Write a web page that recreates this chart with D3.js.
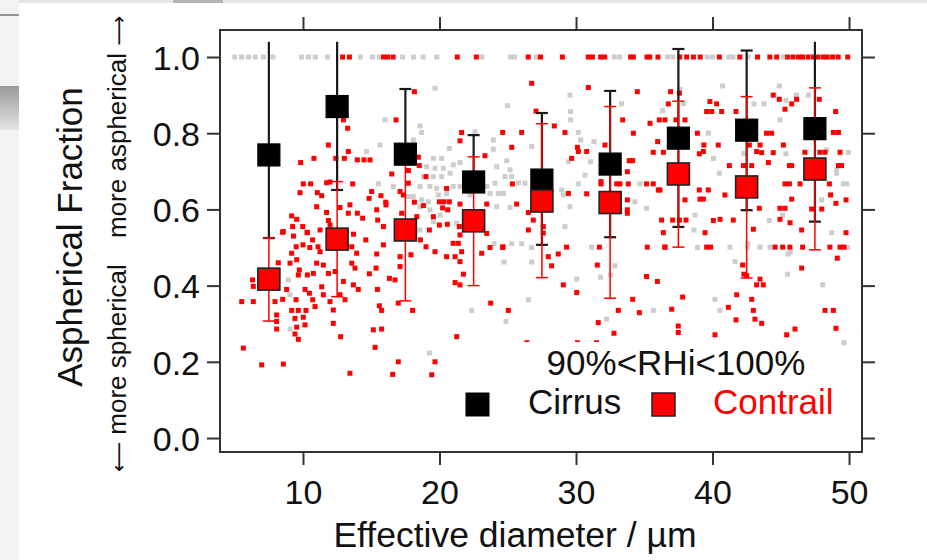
<!DOCTYPE html>
<html>
<head>
<meta charset="utf-8">
<script src="https://cdn.jsdelivr.net/npm/d3@7"></script>
<style>
	body { margin: 0; background: #fff; }
	svg { display: block; font-family: "Liberation Sans", Arial, sans-serif; }
</style>
</head>
<body>
<div id="chart"></div>
<script>
// bin centres (effective diameter, µm)
const binCenters = [7.5, 12.5, 17.5, 22.5, 27.5, 32.5, 37.5, 42.5, 47.5];

// binned cirrus / contrail statistics
const cirrusMean = [0.743, 0.870, 0.745, 0.672, 0.677, 0.719, 0.787, 0.808, 0.812];
const cirrusHi = [1.04, 1.04, 0.916, 0.795, 0.853, 0.911, 1.021, 1.017, 1.04];
const cirrusLo = [0.525, 0.651, 0.72, 0.65, 0.507, 0.527, 0.554, 0.598, 0.568];
const contrailMean = [0.417, 0.522, 0.546, 0.570, 0.622, 0.618, 0.693, 0.659, 0.706];
const contrailHi = [0.525, 0.673, 0.735, 0.738, 0.825, 0.870, 0.884, 0.896, 0.919];
const contrailLo = [0.307, 0.371, 0.360, 0.400, 0.421, 0.367, 0.501, 0.420, 0.494];

// individual points sitting at fraction = 1.0
const cirrusTopX = [5.0, 5.5, 6.0, 6.5, 7.1, 7.8, 9.9, 10.4, 10.9, 11.8, 14.2, 15.1, 15.6, 17.3, 18.1,
	18.8, 19.8, 23.1, 25.2, 25.5, 27.1, 32.8, 33.2, 36.7, 37.1, 39.6, 40.0, 41.2, 41.5, 42.6, 45.2];
const contrailTopX = [12.9, 13.4, 15.9, 16.2, 16.6, 21.3, 22.7, 26.5, 27.4, 29.0, 30.9, 31.2, 31.8, 32.1,
	34.0, 34.2, 35.2, 35.4, 36.0, 37.6, 38.1, 38.6, 39.1, 40.5, 42.0, 43.3, 44.2, 44.7, 45.5, 45.9, 46.3,
	46.6, 47.0, 47.4, 47.7, 48.1, 48.4, 48.8, 49.2, 49.9];

// individual cirrus points [diameter, fraction]
const cirrusPts = [
	[19.67,0.918],[24.97,0.872],[16.01,0.835],[18.57,0.819],[18.69,0.802],[15.64,0.769],[14.66,0.752],
	[20.72,0.76],[22.6,0.804],[23.94,0.782],[23.94,0.758],[26.75,0.765],[24.92,0.728],[25.17,0.704],
	[24.8,0.686],[18.08,0.782],[17.96,0.756],[19.55,0.734],[20.16,0.734],[19.06,0.712],[19.67,0.708],
	[20.28,0.708],[21.01,0.717],[21.5,0.723],[18.82,0.686],[19.55,0.686],[20.16,0.686],[20.77,0.695],
	[18.57,0.66],[19.3,0.66],[19.79,0.655],[21.01,0.66],[21.5,0.66],[18.08,0.634],[18.69,0.625],
	[19.18,0.62],[19.92,0.638],[20.52,0.641],[22.24,0.638],[23.46,0.66],[24.07,0.669],[23.7,0.642],
	[24.31,0.642],[24.68,0.642],[24.19,0.712],[25.29,0.686],[25.78,0.669],[26.26,0.669],[26.99,0.673],
	[15.52,0.667],[16.62,0.66],[17.72,0.634],[18.57,0.607],[19.3,0.599],[20.04,0.585],[19.55,0.568],
	[22.11,0.594],[24.19,0.607],[25.17,0.605],[21.26,0.564],[18.57,0.546],
	[8.93,0.415],[9.05,0.376],[9.05,0.286],[22.36,0.335],[24.87,0.306],[19.26,0.223],[26.51,0.363],
	[24.73,0.462],[26.75,0.462],[25.29,0.51],[26.02,0.51],[26.75,0.5],[24.0,0.51],
	[29.56,0.9],[29.6,0.857],[29.6,0.835],[30.17,0.802],[30.34,0.782],[31.32,0.778],[29.44,0.725],
	[31.07,0.725],[30.66,0.69],[30.17,0.667],[28.95,0.651],[29.07,0.638],[29.56,0.607],[29.19,0.555],
	[33.34,0.877],[34.69,0.667],[34.32,0.62],[35.17,0.603],[37.62,0.915],[36.35,0.859],[37.86,0.878],
	[39.69,0.8],[40.06,0.734],[40.5,0.695],[40.74,0.924],[43.04,0.877],[43.77,0.877],[44.94,0.835],
	[44.89,0.924],[46.16,0.9],[47.02,0.9],[45.38,0.886],[42.3,0.747],[45.38,0.746],[48.36,0.756],
	[49.95,0.75],[49.09,0.704],[49.09,0.695],[49.58,0.667],[49.83,0.667],[47.99,0.625],[44.16,0.571],
	[45.14,0.585],[38.72,0.585],[38.64,0.546],[48.73,0.539],
	[31.14,0.501],[32.85,0.452],[31.8,0.422],[32.54,0.428],[30.05,0.417],[32.24,0.312],[35.66,0.335],
	[40.18,0.364],[40.55,0.335],[41.65,0.463],[41.28,0.501],[42.55,0.501],[43.48,0.501],[44.21,0.501],
	[45.55,0.483],[45.48,0.43],[48.07,0.402],[49.63,0.25],[38.9,0.5],[49.9,0.5],[42.6,0.51],[45.7,0.488]
];

// individual contrail points [diameter, fraction]
const contrailPts = [
	[26.75,0.931],[27.07,0.858],[18.16,0.909],[16.81,0.835],[12.96,0.835],[13.27,0.813],[11.86,0.769],
	[13.32,0.752],[12.4,0.734],[13.03,0.734],[13.98,0.73],[14.47,0.73],[14.91,0.73],[10.8,0.734],
	[9.83,0.723],[10.02,0.667],[10.56,0.667],[11.73,0.67],[11.98,0.672],[13.64,0.667],[9.78,0.644],
	[11.05,0.644],[11.37,0.636],[15.03,0.647],[14.84,0.629],[15.71,0.636],[16.5,0.693],[17.11,0.647],
	[17.35,0.638],[18.45,0.737],[18.52,0.715],[17.72,0.702],[17.72,0.669],[19.01,0.686],[16.06,0.619],
	[18.16,0.619],[18.82,0.61],[20.52,0.655],[19.99,0.62],[20.33,0.62],[20.72,0.62],[20.23,0.604],
	[20.6,0.599],[21.62,0.802],[21.5,0.78],[23.33,0.741],[24.63,0.802],[26.02,0.802],[25.29,0.763],
	[25.34,0.667],[25.65,0.614],[21.5,0.614],[23.46,0.614],[9.17,0.583],[9.54,0.574],[8.56,0.542],
	[9.24,0.555],[9.98,0.555],[10.32,0.539],[11.0,0.607],[11.73,0.592],[12.71,0.605],[13.44,0.612],
	[13.32,0.59],[13.98,0.59],[14.37,0.577],[11.86,0.571],[11.98,0.559],[11.25,0.546],[15.4,0.599],
	[15.47,0.572],[15.89,0.555],[16.08,0.612],[17.23,0.59],[18.33,0.581],[19.55,0.581],[19.99,0.559],
	[20.57,0.561],[19.26,0.546],[21.45,0.555],[21.5,0.533],[23.46,0.537],[26.51,0.592],[26.51,0.546],
	[26.87,0.572],[8.5,0.54],[9.3,0.53],[10.3,0.54],[10.7,0.52],[13.7,0.535],[14.6,0.52],[18.6,0.52],
	[8.19,0.46],[9.17,0.485],[9.5,0.502],[10.0,0.507],[10.5,0.5],[11.1,0.502],[9.05,0.459],[9.54,0.468],
	[9.73,0.441],[9.66,0.428],[10.32,0.428],[10.76,0.432],[11.0,0.459],[11.49,0.454],[11.86,0.432],
	[11.25,0.489],[11.98,0.502],[6.36,0.398],[6.31,0.415],[5.51,0.358],[6.36,0.358],[7.95,0.358],
	[8.51,0.364],[8.8,0.39],[9.49,0.363],[10.15,0.39],[10.47,0.38],[10.71,0.363],[10.88,0.345],
	[11.37,0.397],[11.49,0.376],[11.98,0.358],[9.17,0.335],[9.66,0.335],[10.22,0.335],[9.41,0.314],
	[10.02,0.317],[8.07,0.323],[8.07,0.306],[8.07,0.286],[9.54,0.291],[10.15,0.297],[9.41,0.273],
	[9.66,0.259],[12.22,0.336],[12.22,0.301],[12.76,0.266],[5.63,0.236],[6.97,0.192],[8.56,0.194],
	[13.44,0.17],[12.35,0.437],[12.96,0.411],[12.71,0.376],[13.08,0.363],[13.57,0.459],[13.81,0.446],
	[13.69,0.402],[14.05,0.39],[13.93,0.485],[13.57,0.502],[14.86,0.431],[15.35,0.446],[15.45,0.39],
	[15.4,0.483],[15.89,0.507],[15.59,0.347],[15.76,0.335],[16.33,0.419],[16.74,0.415],[17.11,0.476],
	[17.11,0.45],[16.98,0.354],[18.03,0.335],[17.91,0.481],[15.15,0.284],[15.76,0.286],[15.28,0.238],
	[16.98,0.2],[16.57,0.167],[19.67,0.2],[19.43,0.166],[19.01,0.502],[19.67,0.489],[20.52,0.476],
	[21.14,0.476],[21.5,0.463],[21.75,0.43],[21.14,0.408],[21.5,0.402],[21.0,0.511],[21.38,0.511],
	[21.62,0.489],[23.09,0.485],[23.75,0.354],[25.04,0.335],[21.26,0.266],[23.7,0.5],[24.63,0.5],
	[30.9,0.92],[34.49,0.909],[36.93,0.909],[37.57,0.905],[36.76,0.877],[39.81,0.883],[40.3,0.877],
	[39.57,0.857],[39.94,0.857],[40.67,0.857],[41.72,0.857],[44.45,0.9],[44.89,0.889],[45.31,0.863],
	[45.8,0.877],[46.16,0.889],[47.82,0.889],[49.02,0.857],[33.42,0.835],[36.1,0.835],[36.52,0.835],
	[37.32,0.835],[37.98,0.835],[35.42,0.826],[34.2,0.8],[29.19,0.802],[28.41,0.819],[35.98,0.778],
	[35.66,0.75],[36.4,0.75],[38.89,0.8],[39.37,0.769],[40.42,0.769],[39.03,0.746],[39.33,0.752],
	[43.96,0.8],[44.33,0.8],[45.19,0.769],[43.48,0.769],[43.6,0.749],[44.45,0.749],[42.7,0.769],
	[46.77,0.75],[47.87,0.75],[48.24,0.75],[49.34,0.75],[48.85,0.802],[49.22,0.802],[29.68,0.734],
	[30.1,0.763],[30.17,0.752],[30.78,0.752],[29.44,0.642],[30.78,0.641],[31.83,0.673],[31.83,0.667],
	[32.12,0.769],[33.76,0.699],[33.9,0.728],[34.15,0.728],[33.83,0.667],[33.22,0.667],[33.76,0.599],
	[35.17,0.667],[35.66,0.667],[36.15,0.651],[41.23,0.715],[42.26,0.715],[42.87,0.715],[44.09,0.723],
	[45.63,0.715],[45.8,0.715],[49.22,0.715],[49.46,0.715],[40.91,0.638],[39.08,0.627],[39.33,0.627],
	[39.03,0.651],[39.69,0.651],[40.06,0.571],[40.55,0.574],[41.52,0.572],[44.94,0.603],[45.31,0.603],
	[45.31,0.667],[45.63,0.667],[46.41,0.667],[48.56,0.667],[48.65,0.638],[49.04,0.616],[49.78,0.625],
	[49.78,0.539],[47.26,0.601],[48.0,0.601],[45.8,0.627],[45.68,0.565],[46.53,0.546],[43.43,0.603],
	[42.99,0.548],[44.94,0.574],[37.98,0.625],[37.57,0.572],[37.08,0.572],[38.06,0.572],[36.27,0.572],
	[36.4,0.539],[39.45,0.539],[36.03,0.651],[32.98,0.667],[33.76,0.625],[33.76,0.59],[27.6,0.555],
	[27.6,0.538],[43.23,0.752],
	[27.97,0.476],[28.21,0.452],[28.7,0.483],[29.31,0.501],[29.07,0.402],[30.05,0.382],[31.71,0.501],
	[31.56,0.454],[35.22,0.501],[36.52,0.501],[35.17,0.424],[35.96,0.411],[39.57,0.501],[39.86,0.501],
	[42.21,0.454],[42.3,0.43],[42.5,0.426],[43.48,0.417],[43.23,0.402],[43.72,0.402],[44.58,0.501],
	[45.14,0.501],[45.67,0.501],[46.6,0.501],[48.6,0.501],[49.34,0.501],[49.63,0.501],[49.14,0.472],
	[46.53,0.446],[34.15,0.364],[34.64,0.329],[33.1,0.335],[31.63,0.303],[32.78,0.275],[37.01,0.338],
	[37.81,0.37],[37.49,0.294],[37.49,0.277],[40.18,0.271],[41.16,0.343],[41.77,0.376],[41.72,0.31],
	[42.87,0.364],[42.99,0.335],[43.11,0.312],[43.6,0.301],[45.43,0.271],[46.04,0.286],[48.24,0.335],
	[48.85,0.335],[49.04,0.288],[26.4,0.25],[30.1,0.25],[31.5,0.25],[24.65,0.502],[36.5,0.501]
];

const yTicks = [0, 0.2, 0.4, 0.6, 0.8, 1.0];
const xTicks = [10, 20, 30, 40, 50];

const width = 927;
const height = 560;
const plot = { left: 220, right: 862, top: 30, bottom: 452 };

const svg = d3.select('#chart').append('svg')
	.attr('width', width)
	.attr('height', height);

/* --------- screenshot frame bits --------- */
svg.append('rect').attr('x', 0).attr('y', 0).attr('width', width).attr('height', 3).attr('fill', '#e6e6e6');
svg.append('rect').attr('x', 173).attr('y', 0).attr('width', 50).attr('height', 3).attr('fill', '#b5b5b5');
svg.append('rect').attr('x', 0).attr('y', 0).attr('width', 19).attr('height', height).attr('fill', '#f3f3f3');
svg.append('line').attr('x1', 0).attr('x2', 19).attr('y1', 15).attr('y2', 15)
	.attr('stroke', '#555').attr('stroke-width', 1.2);
const grad = svg.append('defs').append('linearGradient')
	.attr('id', 'sideGrad').attr('x1', 0).attr('x2', 0).attr('y1', 0).attr('y2', 1);
grad.append('stop').attr('offset', '0%').attr('stop-color', '#9a9a9a');
grad.append('stop').attr('offset', '100%').attr('stop-color', '#e4e4e4');
svg.append('rect').attr('x', 0).attr('y', 86).attr('width', 19).attr('height', 44).attr('fill', 'url(#sideGrad)');

// scales
const x = d3.scaleLinear()
	.domain([3.92, 50.95])
	.range([plot.left, plot.right]);
const y = d3.scaleLinear()
	.domain([-0.0367, 1.0709])
	.range([plot.bottom, plot.top]);

const chart = svg.append('g');

/* --------- scatter --------- */
const dot = 5;
const cirrusAll = cirrusPts.concat(cirrusTopX.map(v => [v, 1.0]));
const contrailAll = contrailPts.concat(contrailTopX.map(v => [v, 1.0]));

chart.append('g').selectAll('rect')
	.data(cirrusAll)
	.enter().append('rect')
		.attr('x', d => x(d[0]) - dot / 2)
		.attr('y', d => y(d[1]) - dot / 2)
		.attr('width', dot)
		.attr('height', dot)
		.style('fill', '#cdcdcd');

chart.append('g').selectAll('rect')
	.data(contrailAll)
	.enter().append('rect')
		.attr('x', d => x(d[0]) - dot / 2)
		.attr('y', d => y(d[1]) - dot / 2)
		.attr('width', dot)
		.attr('height', dot)
		.style('fill', '#ff0000');

// legend background hides the points behind it
chart.append('rect')
	.attr('x', 462).attr('y', 342)
	.attr('width', 378).attr('height', 90)
	.style('fill', '#fff');

/* --------- binned means with error bars --------- */
const stats = binCenters.map((c, i) => ({
	x: c,
	cm: cirrusMean[i], chi: cirrusHi[i], clo: cirrusLo[i],
	tm: contrailMean[i], thi: contrailHi[i], tlo: contrailLo[i],
}));
const capW = 6;

const drawBars = (key, lo, hi, color, lw) => {
	const g = chart.append('g').attr('class', key);
	g.selectAll('.stem')
		.data(stats)
		.enter().append('line')
			.attr('x1', d => x(d.x)).attr('x2', d => x(d.x))
			.attr('y1', d => y(d[lo])).attr('y2', d => y(d[hi]))
			.style('stroke', color).style('stroke-width', lw);
	g.selectAll('.capLo')
		.data(stats)
		.enter().append('line')
			.attr('x1', d => x(d.x) - capW).attr('x2', d => x(d.x) + capW)
			.attr('y1', d => y(d[lo])).attr('y2', d => y(d[lo]))
			.style('stroke', color).style('stroke-width', lw);
	g.selectAll('.capHi')
		.data(stats.filter(d => d[hi] < 1.03))
		.enter().append('line')
			.attr('x1', d => x(d.x) - capW).attr('x2', d => x(d.x) + capW)
			.attr('y1', d => y(d[hi])).attr('y2', d => y(d[hi]))
			.style('stroke', color).style('stroke-width', lw);
};

drawBars('cirrusBars', 'clo', 'chi', '#1a1a1a', 2.2);
drawBars('contrailBars', 'tlo', 'thi', '#ff0000', 1.5);

const sq = 22;
chart.append('g').selectAll('rect')
	.data(stats)
	.enter().append('rect')
		.attr('x', d => x(d.x) - sq / 2)
		.attr('y', d => y(d.cm) - sq / 2)
		.attr('width', sq).attr('height', sq)
		.style('fill', '#000')
		.style('stroke', '#000')
		.style('stroke-width', 1.2);
chart.append('g').selectAll('rect')
	.data(stats)
	.enter().append('rect')
		.attr('x', d => x(d.x) - sq / 2)
		.attr('y', d => y(d.tm) - sq / 2)
		.attr('width', sq).attr('height', sq)
		.style('fill', '#ff0000')
		.style('stroke', '#222')
		.style('stroke-width', 1.6);

/* --------- axes --------- */
const tickLen = 13;
const axisColor = '#333';

const bottomAxis = svg.append('g')
	.attr('transform', `translate(0, ${plot.bottom})`)
	.call(d3.axisBottom(x).tickValues(xTicks).tickSize(tickLen).tickPadding(15));
const topAxis = svg.append('g')
	.attr('transform', `translate(0, ${plot.top})`)
	.call(d3.axisTop(x).tickValues(xTicks).tickSize(tickLen).tickFormat(''));
const leftAxis = svg.append('g')
	.attr('transform', `translate(${plot.left}, 0)`)
	.call(d3.axisLeft(y).tickValues(yTicks).tickSize(tickLen).tickPadding(7).tickFormat(d3.format('.1f')));
const rightAxis = svg.append('g')
	.attr('transform', `translate(${plot.right}, 0)`)
	.call(d3.axisRight(y).tickValues(yTicks).tickSize(tickLen).tickFormat(''));

[bottomAxis, topAxis, leftAxis, rightAxis].forEach(a => {
	a.select('.domain').remove();
	a.selectAll('.tick line').style('stroke', axisColor).style('stroke-width', 2);
	a.selectAll('.tick text')
		.style('font-family', '"Liberation Sans", Arial, sans-serif')
		.style('font-size', '34px')
		.style('fill', '#111');
});
leftAxis.selectAll('.tick text').attr('dy', '0.36em');

// plot frame
svg.append('rect')
	.attr('x', plot.left).attr('y', plot.top)
	.attr('width', plot.right - plot.left)
	.attr('height', plot.bottom - plot.top)
	.style('fill', 'none')
	.style('stroke', axisColor)
	.style('stroke-width', 2);

/* --------- labels --------- */
svg.append('text')
	.attr('x', 515)
	.attr('y', 547)
	.attr('text-anchor', 'middle')
	.style('font-size', '35.5px')
	.style('fill', '#111')
	.text('Effective diameter / µm');

svg.append('text')
	.attr('transform', 'translate(82, 237) rotate(-90)')
	.attr('text-anchor', 'middle')
	.style('font-size', '35px')
	.style('fill', '#111')
	.text('Aspherical Fraction');

const upNote = svg.append('text')
	.attr('transform', 'translate(126, 238) rotate(-90)')
	.attr('text-anchor', 'start')
	.style('font-size', '26px')
	.style('fill', '#111');
upNote.append('tspan').text('more aspherical ');
upNote.append('tspan').style('font-family', '"DejaVu Sans"').style('font-size', '21px').text('\u27F6');

const downNote = svg.append('text')
	.attr('transform', 'translate(126, 472) rotate(-90)')
	.attr('text-anchor', 'start')
	.style('font-size', '26px')
	.style('fill', '#111');
downNote.append('tspan').style('font-family', '"DejaVu Sans"').style('font-size', '21px').text('\u27F5');
downNote.append('tspan').text(' more spherical');

/* --------- legend --------- */
const legend = svg.append('g');
legend.append('text')
	.attr('x', 676).attr('y', 375)
	.attr('text-anchor', 'middle')
	.style('font-size', '35px')
	.style('fill', '#111')
	.text('90%<RHi<100%');
legend.append('rect')
	.attr('x', 466).attr('y', 393).attr('width', 23).attr('height', 23)
	.style('fill', '#000').style('stroke', '#000');
legend.append('text')
	.attr('x', 528).attr('y', 414)
	.style('font-size', '35px')
	.style('fill', '#111')
	.text('Cirrus');
legend.append('rect')
	.attr('x', 652).attr('y', 393).attr('width', 23).attr('height', 23)
	.style('fill', '#ff0000').style('stroke', '#222').style('stroke-width', 1.5);
legend.append('text')
	.attr('x', 713).attr('y', 414)
	.style('font-size', '35px')
	.style('fill', '#ff0000')
	.text('Contrail');
</script>
</body>
</html>
